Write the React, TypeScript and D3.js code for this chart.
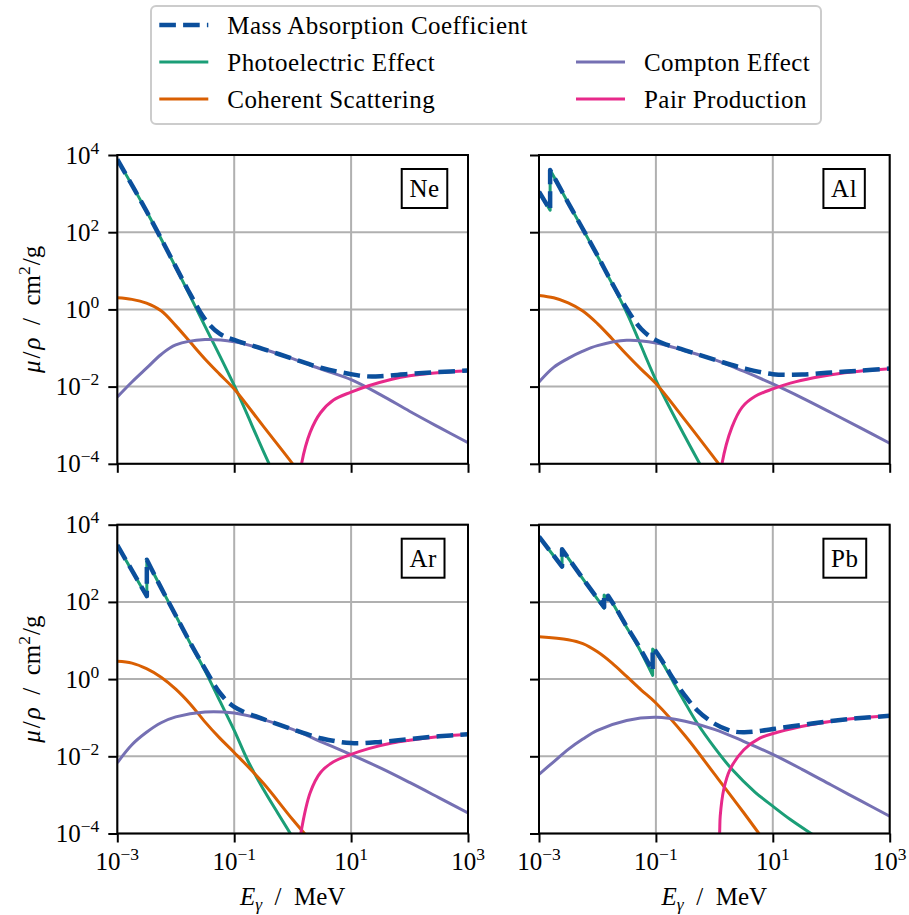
import React, { useEffect, useRef } from "react";
import * as d3 from "d3";

type Pt = [number, number];

// photon energy in MeV, mass attenuation in cm^2/g
const neTotal: Pt[] = [
  [0.001, 7700], [0.00316, 350], [0.01, 12.8], [0.0178, 2.45], [0.0316, 0.56],
  [0.0562, 0.235], [0.1, 0.162], [0.316, 0.094], [1, 0.053], [3.16, 0.0303],
  [10, 0.021], [17.8, 0.0185], [31.6, 0.0185], [100, 0.0213], [316, 0.0238], [1000, 0.026],
];
const nePhoto: Pt[] = [
  [0.001, 7700], [0.00316, 350], [0.01, 12.3], [0.0316, 0.37], [0.1, 0.0107],
  [0.316, 0.00021], [0.562, 0.000032],
];
const neCoherent: Pt[] = [
  [0.001, 2.0], [0.00178, 1.82], [0.00316, 1.45], [0.00562, 0.92], [0.01, 0.38],
  [0.0178, 0.14], [0.0316, 0.052], [0.0562, 0.021], [0.1, 0.0087], [0.316, 0.00093],
  [1, 0.0001], [3.16, 0.00001],
];
const neCompton: Pt[] = [
  [0.001, 0.0054], [0.00178, 0.0132], [0.00316, 0.03], [0.00562, 0.068], [0.01, 0.12],
  [0.0316, 0.166], [0.1, 0.145], [0.316, 0.093], [1, 0.053], [3.16, 0.028],
  [10, 0.0151], [31.6, 0.0062], [100, 0.0023], [316, 0.00089], [1000, 0.00035],
];
const nePair: Pt[] = [
  [1.2, 0.00001], [1.42, 0.0001], [2, 0.00066], [3, 0.0021], [5, 0.0045], [10, 0.0072],
  [20, 0.0105], [50, 0.0155], [100, 0.019], [300, 0.0229], [1000, 0.0257],
];

const alTotal: Pt[] = [
  [0.001, 1122], [0.00155, 372], [0.00155, 4070], [0.002, 2040], [0.00316, 577],
  [0.00562, 121], [0.01, 25], [0.0178, 4.8], [0.0316, 1.05], [0.0562, 0.31],
  [0.1, 0.16], [0.316, 0.087], [1, 0.05], [3.16, 0.03], [10, 0.021], [31.6, 0.0205],
  [100, 0.0232], [316, 0.026], [1000, 0.0293],
];
const alPhoto: Pt[] = [
  [0.001, 1120], [0.00155, 370], [0.00155, 4070], [0.002, 2040], [0.00316, 575],
  [0.00562, 120], [0.01, 24], [0.0316, 0.83], [0.1, 0.0148], [0.316, 0.0005],
  [0.562, 0.0001], [1, 0.00002],
];
const alCoherent: Pt[] = [
  [0.001, 2.3], [0.00178, 2.0], [0.00316, 1.48], [0.00562, 0.91], [0.01, 0.43],
  [0.0178, 0.174], [0.0316, 0.068], [0.0562, 0.028], [0.1, 0.012], [0.316, 0.00135],
  [1, 0.00014], [3.16, 0.000014],
];
const alCompton: Pt[] = [
  [0.001, 0.0132], [0.00178, 0.0316], [0.00316, 0.054], [0.00562, 0.083], [0.01, 0.115],
  [0.0316, 0.158], [0.1, 0.135], [0.316, 0.085], [1, 0.05], [3.16, 0.025],
  [10, 0.0117], [31.6, 0.0051], [100, 0.0021], [316, 0.00085], [1000, 0.00034],
];
const alPair: Pt[] = [
  [1.15, 0.00001], [1.35, 0.0001], [2, 0.00089], [3, 0.00295], [5, 0.0056], [10, 0.0087],
  [20, 0.0123], [50, 0.017], [100, 0.0204], [300, 0.025], [1000, 0.0288],
];

const arTotal: Pt[] = [
  [0.001, 2953], [0.0032, 141], [0.0032, 1232], [0.00562, 231], [0.01, 44.6],
  [0.0178, 8.6], [0.0316, 1.88], [0.0562, 0.45], [0.1, 0.19], [0.316, 0.092],
  [1, 0.05], [3.16, 0.029], [10, 0.022], [31.6, 0.0235], [100, 0.028], [316, 0.033],
  [1000, 0.0373],
];
const arPhoto: Pt[] = [
  [0.001, 2950], [0.0032, 138], [0.0032, 1230], [0.00562, 230], [0.01, 44],
  [0.0178, 8.3], [0.0316, 1.66], [0.0562, 0.28], [0.1, 0.047], [0.178, 0.0068],
  [0.316, 0.0014], [0.562, 0.00033], [1, 0.00008], [1.78, 0.00002],
];
const arCoherent: Pt[] = [
  [0.001, 2.9], [0.00178, 2.6], [0.00316, 1.86], [0.00562, 1.12], [0.01, 0.55],
  [0.0178, 0.224], [0.0316, 0.078], [0.0562, 0.03], [0.1, 0.0126], [0.316, 0.002],
  [1, 0.00023], [3.16, 0.00003],
];
const arCompton: Pt[] = [
  [0.001, 0.0068], [0.00178, 0.02], [0.00316, 0.042], [0.00562, 0.074], [0.01, 0.105],
  [0.0316, 0.141], [0.1, 0.132], [0.316, 0.089], [1, 0.05], [3.16, 0.0234],
  [10, 0.011], [31.6, 0.005], [100, 0.0021], [316, 0.00085], [1000, 0.00034],
];
const arPair: Pt[] = [
  [1.15, 0.00001], [1.38, 0.0001], [2, 0.00115], [3, 0.0038], [5, 0.0072], [10, 0.0112],
  [20, 0.0158], [50, 0.022], [100, 0.026], [300, 0.032], [1000, 0.037],
];

const pbTotal: Pt[] = [
  [0.001, 4910], [0.00248, 823], [0.00248, 2300], [0.005, 517], [0.01, 123],
  [0.013, 73], [0.013, 154], [0.0152, 118], [0.0152, 145], [0.02, 75.5], [0.03, 26.3],
  [0.05, 7.5], [0.088, 1.62], [0.088, 6.35], [0.1, 5.24], [0.15, 2.02], [0.2, 0.99],
  [0.3, 0.41], [0.5, 0.16], [1, 0.0705], [2, 0.045], [3.16, 0.042], [5, 0.0438],
  [10, 0.0507], [31.6, 0.065], [100, 0.082], [316, 0.098], [1000, 0.112],
];
const pbPhoto: Pt[] = [
  [0.001, 4900], [0.00248, 813], [0.00248, 2290], [0.005, 510], [0.01, 118],
  [0.013, 69], [0.013, 150], [0.0152, 115], [0.0152, 142], [0.02, 73], [0.03, 25],
  [0.05, 6.8], [0.088, 1.25], [0.088, 6.0], [0.1, 4.9], [0.15, 1.8], [0.2, 0.82],
  [0.3, 0.28], [0.5, 0.075], [1, 0.017], [2, 0.0046], [5, 0.00117], [10, 0.00051],
  [20, 0.00023], [50, 0.00009], [100, 0.000045],
];
const pbCoherent: Pt[] = [
  [0.001, 12.6], [0.00316, 10.5], [0.00562, 8.3], [0.01, 5.1], [0.0178, 2.6],
  [0.0316, 1.17], [0.0562, 0.52], [0.1, 0.24], [0.316, 0.034], [1, 0.0035],
  [3.16, 0.00035], [10, 0.000032],
];
const pbCompton: Pt[] = [
  [0.001, 0.0034], [0.00178, 0.0072], [0.00316, 0.0151], [0.00562, 0.028], [0.01, 0.047],
  [0.0316, 0.085], [0.1, 0.102], [0.316, 0.081], [1, 0.05], [3.16, 0.0245],
  [10, 0.0112], [31.6, 0.0046], [100, 0.0018], [316, 0.00071], [1000, 0.00028],
];
const pbPair: Pt[] = [
  [1.12, 0.00001], [1.23, 0.0001], [1.26, 0.00028], [1.45, 0.0014], [1.86, 0.0046],
  [3.2, 0.0148], [6, 0.0295], [12, 0.042], [44, 0.066], [160, 0.089], [1000, 0.112],
];

const elements = ["Ne", "Al", "Ar", "Pb"];
const xTicks = [1e-3, 1e-1, 1e1, 1e3];
const xTickExp = ["\u22123", "\u22121", "1", "3"];
const yTicks = [1e-4, 1e-2, 1e0, 1e2, 1e4];
const yTickExp = ["\u22124", "\u22122", "0", "2", "4"];
const legendLabels = [
  "Mass Absorption Coefficient",
  "Photoelectric Effect",
  "Coherent Scattering",
  "Compton Effect",
  "Pair Production",
];

const panelData = [
  [neTotal, nePhoto, neCoherent, neCompton, nePair],
  [alTotal, alPhoto, alCoherent, alCompton, alPair],
  [arTotal, arPhoto, arCoherent, arCompton, arPair],
  [pbTotal, pbPhoto, pbCoherent, pbCompton, pbPair],
];

const FONT = '"Liberation Serif", "Times New Roman", serif';
const colors = ["#0b4f9c", "#1b9e77", "#d95f02", "#7570b3", "#e7298a"];

const App = () => {
  const svgRef = useRef<SVGSVGElement>(null);

  useEffect(() => {
    if (!svgRef.current) return;
    const svg = d3.select(svgRef.current);
    svg.selectAll("*").remove();

    const colLeft = [117.3, 539];
    const rowTop = [155, 524.7];
    const pw = 350.7;
    const ph = 308.8;
    const defs = svg.append("defs");

    elements.forEach((el, i) => {
      const col = i % 2;
      const row = Math.floor(i / 2);
      const x0 = colLeft[col];
      const y0 = rowTop[row];

      const x = d3.scaleLog().domain([1e-3, 1e3]).range([x0, x0 + pw]);
      const y = d3.scaleLog().domain([1e-4, 1e4]).range([y0 + ph, y0]);

      defs
        .append("clipPath")
        .attr("id", `clip-${el}`)
        .append("rect")
        .attr("x", x0)
        .attr("y", y0)
        .attr("width", pw)
        .attr("height", ph);

      const g = svg.append("g");

      // grid
      xTicks.forEach((t) => {
        g.append("line")
          .attr("x1", x(t)).attr("x2", x(t))
          .attr("y1", y0).attr("y2", y0 + ph)
          .attr("stroke", "#b0b0b0").attr("stroke-width", 2);
      });
      yTicks.forEach((t) => {
        g.append("line")
          .attr("x1", x0).attr("x2", x0 + pw)
          .attr("y1", y(t)).attr("y2", y(t))
          .attr("stroke", "#b0b0b0").attr("stroke-width", 2);
      });

      const line = d3
        .line<Pt>()
        .x((d) => x(d[0]))
        .y((d) => y(d[1]))
        .curve(d3.curveCatmullRom.alpha(0.5));

      // absorption edges: repeated energy starts a new segment joined by a vertical step
      const edgePath = (pts: Pt[]) => {
        const segs: Pt[][] = [];
        let cur: Pt[] = [];
        pts.forEach((p, k) => {
          if (k > 0 && p[0] === pts[k - 1][0]) {
            segs.push(cur);
            cur = [];
          }
          cur.push(p);
        });
        segs.push(cur);
        return segs
          .map((s, k) => {
            const d = (line(s) || "").replace(/Z$/, "");
            return k === 0 ? d : "L" + d.slice(1);
          })
          .join("");
      };

      const lines = g.append("g").attr("clip-path", `url(#clip-${el})`);
      const series = panelData[i];
      [1, 2, 3, 4, 0].forEach((s) => {
        lines
          .append("path")
          .attr("d", edgePath(series[s]))
          .attr("fill", "none")
          .attr("stroke", colors[s])
          .attr("stroke-width", s === 0 ? 4.5 : 3)
          .attr("stroke-dasharray", s === 0 ? "16.6,7.2" : null)
          .attr("stroke-linejoin", "round");
      });

      // frame
      g.append("rect")
        .attr("x", x0).attr("y", y0)
        .attr("width", pw).attr("height", ph)
        .attr("fill", "none").attr("stroke", "black").attr("stroke-width", 2);

      // ticks
      g.append("g")
        .attr("transform", `translate(0,${y0 + ph})`)
        .call(d3.axisBottom(x).tickValues(xTicks).tickSize(9).tickSizeOuter(0).tickFormat(() => ""))
        .call((a) => a.select(".domain").remove())
        .call((a) => a.selectAll("line").attr("stroke-width", 2));
      g.append("g")
        .attr("transform", `translate(${x0},0)`)
        .call(d3.axisLeft(y).tickValues(yTicks).tickSize(9).tickSizeOuter(0).tickFormat(() => ""))
        .call((a) => a.select(".domain").remove())
        .call((a) => a.selectAll("line").attr("stroke-width", 2));

      if (row === 1) {
        xTicks.forEach((t, k) => {
          const tx = g.append("text")
            .attr("x", x(t)).attr("y", y0 + ph + 36)
            .attr("text-anchor", "middle")
            .style("font-family", FONT).style("font-size", "25px");
          tx.append("tspan").text("10");
          tx.append("tspan").attr("dy", -10).style("font-size", "17.5px").text(xTickExp[k]);
        });
        const xl = g.append("text")
          .attr("x", x0 + pw / 2).attr("y", 905)
          .attr("text-anchor", "middle")
          .style("font-family", FONT).style("font-size", "25px");
        xl.append("tspan").style("font-style", "italic").text("E");
        xl.append("tspan").attr("dy", 5).style("font-style", "italic").style("font-size", "17.5px").text("\u03b3");
        xl.append("tspan").attr("dy", -5).text("\u2002/\u2002MeV");
      }

      if (col === 0) {
        yTicks.forEach((t, k) => {
          const ty = g.append("text")
            .attr("x", x0 - 18).attr("y", y(t) + 8.5)
            .attr("text-anchor", "end")
            .style("font-family", FONT).style("font-size", "25px");
          ty.append("tspan").text("10");
          ty.append("tspan").attr("dy", -10).style("font-size", "17.5px").text(yTickExp[k]);
        });
        const yl = g.append("text")
          .attr("transform", `translate(40,${y0 + ph / 2}) rotate(-90)`)
          .attr("text-anchor", "middle")
          .style("font-family", FONT).style("font-size", "25px");
        yl.append("tspan").style("font-style", "italic").text("\u03bc");
        yl.append("tspan").attr("dx", 2).text("/");
        yl.append("tspan").attr("dx", 2).style("font-style", "italic").text("\u03c1");
        yl.append("tspan").text("\u2002/\u2002cm");
        yl.append("tspan").attr("dy", -10).style("font-size", "17.5px").text("2");
        yl.append("tspan").attr("dy", 10).attr("dx", 1).text("/g");
      }

      // element label box
      const bx = x0 + 0.811 * pw;
      const by = y0 + 14;
      const box = g.append("rect")
        .attr("x", bx).attr("y", by).attr("height", 39)
        .attr("fill", "white").attr("stroke", "black").attr("stroke-width", 2);
      const lbl = g.append("text")
        .attr("x", bx + 7.7).attr("y", by + 28)
        .style("font-family", FONT).style("font-size", "25px")
        .style("letter-spacing", "0.5px")
        .text(el);
      const w = (lbl.node() as SVGTextElement).getComputedTextLength();
      box.attr("width", w + 15.4);
    });

    // legend
    const lg = svg.append("g");
    lg.append("rect")
      .attr("x", 151).attr("y", 6).attr("width", 670).attr("height", 118).attr("rx", 5)
      .attr("fill", "white").attr("stroke", "#cccccc").attr("stroke-width", 2);
    const handleX = [159.3, 576];
    const rowBase = [34.3, 71.3, 108.3];
    const slots = [[0, 0], [0, 1], [0, 2], [1, 1], [1, 2]];
    legendLabels.forEach((label, k) => {
      const [c, r] = slots[k];
      const hy = rowBase[r] - 9.3;
      lg.append("line")
        .attr("x1", handleX[c]).attr("x2", handleX[c] + 49)
        .attr("y1", hy).attr("y2", hy)
        .attr("stroke", colors[k])
        .attr("stroke-width", k === 0 ? 4.5 : 3)
        .attr("stroke-dasharray", k === 0 ? "16.6,7.2" : null);
      lg.append("text")
        .attr("x", handleX[c] + 68).attr("y", rowBase[r])
        .style("font-family", FONT).style("font-size", "25px")
        .style("letter-spacing", "0.45px")
        .text(label);
    });
  }, []);

  return (
    <svg
      ref={svgRef}
      width={909}
      height={915}
      style={{ position: "absolute", left: 0, top: 0, background: "white" }}
    />
  );
};

export default App;
